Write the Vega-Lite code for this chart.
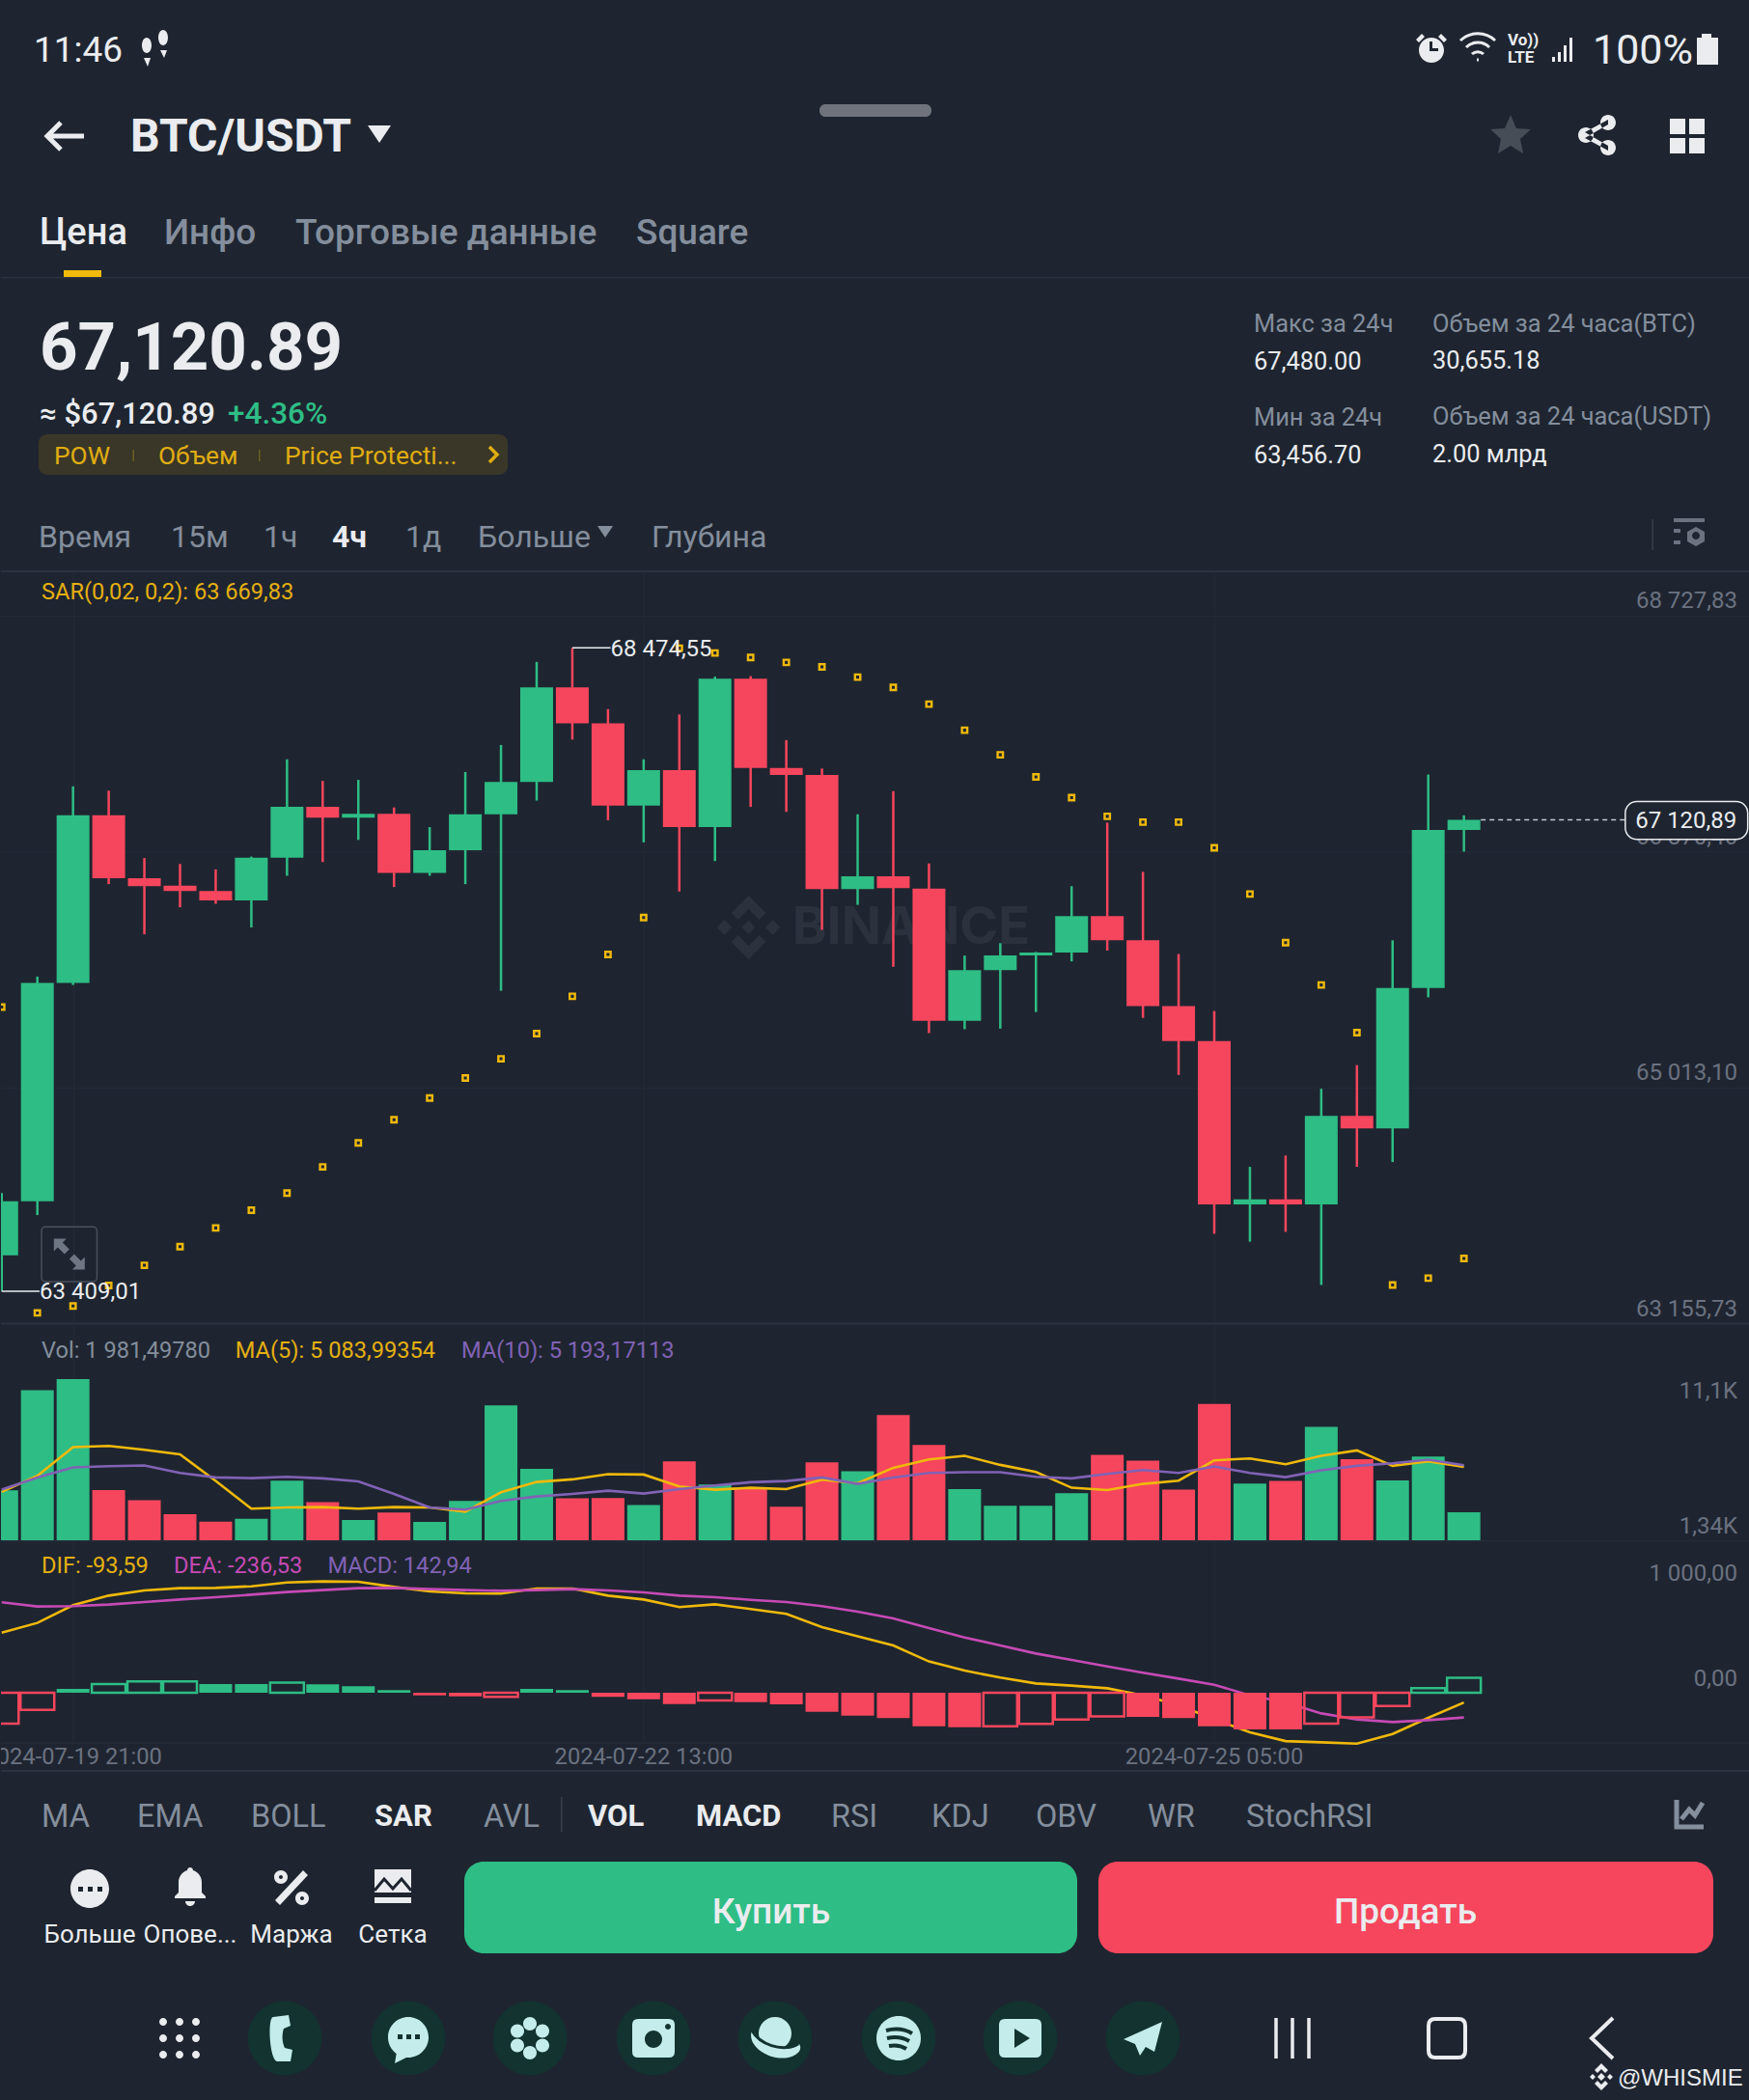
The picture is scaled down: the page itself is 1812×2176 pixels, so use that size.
{
  "$schema": "https://vega.github.io/schema/vega-lite/v6.json",
  "background": "#1e2530",
  "padding": 0,
  "spacing": 0,
  "bounds": "flush",
  "config": {"view": {"stroke": null}, "font": "Roboto"},
  "resolve": {"scale": {"color": "independent"}},
  "datasets": {
    "candles": [
      {"t":"2024-07-19T13:00:00","dir":"up","open":63691,"high":64182,"low":63409.01,"close":64117,"sar":65646,"vol":3476,"ma5":3366,"ma10":3520,"dif":575,"dea":865,"macd":-295,"hollow":true},
      {"t":"2024-07-19T17:00:00","dir":"up","open":64117,"high":65886,"low":64008,"close":65836,"sar":63238,"vol":10318,"ma5":4466,"ma10":4356,"dif":668,"dea":825,"macd":-163,"hollow":true},
      {"t":"2024-07-19T21:00:00","dir":"up","open":65836,"high":67384,"low":65820,"close":67156,"sar":63292,"vol":11066,"ma5":6424,"ma10":5038,"dif":837,"dea":828,"macd":37,"hollow":false},
      {"t":"2024-07-20T01:00:00","dir":"down","open":67156,"high":67350,"low":66614,"close":66660,"sar":63454,"vol":3498,"ma5":6512,"ma10":5126,"dif":929,"dea":843,"macd":83,"hollow":true},
      {"t":"2024-07-20T05:00:00","dir":"down","open":66660,"high":66819,"low":66219,"close":66598,"sar":63613,"vol":2794,"ma5":6248,"ma10":5170,"dif":979,"dea":868,"macd":108,"hollow":true},
      {"t":"2024-07-20T09:00:00","dir":"down","open":66602,"high":66773,"low":66432,"close":66560,"sar":63760,"vol":1848,"ma5":5940,"ma10":4664,"dif":1000,"dea":892,"macd":108,"hollow":true},
      {"t":"2024-07-20T13:00:00","dir":"down","open":66560,"high":66730,"low":66459,"close":66486,"sar":63907,"vol":1342,"ma5":4114,"ma10":4356,"dif":1003,"dea":914,"macd":83,"hollow":false},
      {"t":"2024-07-20T17:00:00","dir":"up","open":66486,"high":66831,"low":66273,"close":66823,"sar":64047,"vol":1540,"ma5":2222,"ma10":4312,"dif":1018,"dea":938,"macd":83,"hollow":false},
      {"t":"2024-07-20T21:00:00","dir":"up","open":66823,"high":67597,"low":66680,"close":67222,"sar":64182,"vol":4136,"ma5":2310,"ma10":4400,"dif":1055,"dea":963,"macd":98,"hollow":true},
      {"t":"2024-07-21T01:00:00","dir":"down","open":67222,"high":67427,"low":66788,"close":67137,"sar":64388,"vol":2662,"ma5":2332,"ma10":4290,"dif":1065,"dea":982,"macd":80,"hollow":false},
      {"t":"2024-07-21T05:00:00","dir":"up","open":67137,"high":67435,"low":66962,"close":67168,"sar":64577,"vol":1452,"ma5":2222,"ma10":4092,"dif":1062,"dea":1000,"macd":62,"hollow":false},
      {"t":"2024-07-21T09:00:00","dir":"down","open":67168,"high":67218,"low":66591,"close":66703,"sar":64759,"vol":1958,"ma5":2332,"ma10":3234,"dif":1012,"dea":1003,"macd":25,"hollow":false},
      {"t":"2024-07-21T13:00:00","dir":"up","open":66703,"high":67063,"low":66680,"close":66881,"sar":64930,"vol":1320,"ma5":2310,"ma10":2310,"dif":969,"dea":991,"macd":-25,"hollow":false},
      {"t":"2024-07-21T17:00:00","dir":"up","open":66881,"high":67497,"low":66614,"close":67164,"sar":65088,"vol":2750,"ma5":2024,"ma10":2156,"dif":951,"dea":982,"macd":-34,"hollow":false},
      {"t":"2024-07-21T21:00:00","dir":"up","open":67164,"high":67710,"low":65774,"close":67419,"sar":65239,"vol":9284,"ma5":3344,"ma10":2750,"dif":948,"dea":975,"macd":-40,"hollow":true},
      {"t":"2024-07-22T01:00:00","dir":"up","open":67419,"high":68364,"low":67272,"close":68163,"sar":65437,"vol":4950,"ma5":4048,"ma10":3058,"dif":997,"dea":982,"macd":37,"hollow":false},
      {"t":"2024-07-22T05:00:00","dir":"down","open":68163,"high":68474.55,"low":67752,"close":67880,"sar":65731,"vol":2926,"ma5":4224,"ma10":3234,"dif":997,"dea":991,"macd":25,"hollow":false},
      {"t":"2024-07-22T09:00:00","dir":"down","open":67880,"high":67992,"low":67117,"close":67233,"sar":66060,"vol":2948,"ma5":4576,"ma10":3454,"dif":929,"dea":979,"macd":-40,"hollow":false},
      {"t":"2024-07-22T13:00:00","dir":"up","open":67233,"high":67597,"low":66943,"close":67512,"sar":66351,"vol":2464,"ma5":4554,"ma10":3256,"dif":892,"dea":960,"macd":-62,"hollow":false},
      {"t":"2024-07-22T17:00:00","dir":"down","open":67512,"high":67950,"low":66556,"close":67063,"sar":68472,"vol":5456,"ma5":3740,"ma10":3564,"dif":819,"dea":929,"macd":-108,"hollow":false},
      {"t":"2024-07-22T21:00:00","dir":"up","open":67063,"high":68248,"low":66796,"close":68232,"sar":68434,"vol":3872,"ma5":3520,"ma10":3806,"dif":846,"dea":914,"macd":-74,"hollow":true},
      {"t":"2024-07-23T01:00:00","dir":"down","open":68232,"high":68252,"low":67222,"close":67528,"sar":68399,"vol":3630,"ma5":3652,"ma10":4026,"dif":800,"dea":889,"macd":-89,"hollow":false},
      {"t":"2024-07-23T05:00:00","dir":"down","open":67528,"high":67748,"low":67183,"close":67473,"sar":68360,"vol":2354,"ma5":3564,"ma10":4114,"dif":754,"dea":868,"macd":-111,"hollow":false},
      {"t":"2024-07-23T09:00:00","dir":"down","open":67473,"high":67524,"low":66254,"close":66575,"sar":68325,"vol":5390,"ma5":4202,"ma10":4356,"dif":628,"dea":828,"macd":-182,"hollow":false},
      {"t":"2024-07-23T13:00:00","dir":"up","open":66575,"high":67164,"low":66451,"close":66676,"sar":68244,"vol":4774,"ma5":3960,"ma10":3916,"dif":539,"dea":775,"macd":-219,"hollow":false},
      {"t":"2024-07-23T17:00:00","dir":"down","open":66676,"high":67346,"low":65963,"close":66583,"sar":68163,"vol":8624,"ma5":5016,"ma10":4356,"dif":452,"dea":711,"macd":-243,"hollow":false},
      {"t":"2024-07-23T21:00:00","dir":"down","open":66579,"high":66777,"low":65441,"close":65537,"sar":68031,"vol":6578,"ma5":5588,"ma10":4664,"dif":299,"dea":619,"macd":-320,"hollow":false},
      {"t":"2024-07-24T01:00:00","dir":"up","open":65537,"high":66052,"low":65472,"close":65936,"sar":67826,"vol":3564,"ma5":5830,"ma10":4708,"dif":212,"dea":529,"macd":-329,"hollow":false},
      {"t":"2024-07-24T05:00:00","dir":"up","open":65936,"high":66149,"low":65476,"close":66052,"sar":67632,"vol":2420,"ma5":5214,"ma10":4708,"dif":145,"dea":452,"macd":-320,"hollow":true},
      {"t":"2024-07-24T09:00:00","dir":"up","open":66052,"high":66080,"low":65607,"close":66076,"sar":67458,"vol":2420,"ma5":4730,"ma10":4400,"dif":89,"dea":375,"macd":-298,"hollow":true},
      {"t":"2024-07-24T13:00:00","dir":"up","open":66076,"high":66598,"low":66006,"close":66362,"sar":67295,"vol":3278,"ma5":3652,"ma10":4290,"dif":68,"dea":314,"macd":-255,"hollow":true},
      {"t":"2024-07-24T17:00:00","dir":"down","open":66362,"high":67098,"low":66091,"close":66172,"sar":67148,"vol":5896,"ma5":3498,"ma10":4598,"dif":43,"dea":252,"macd":-225,"hollow":true},
      {"t":"2024-07-24T21:00:00","dir":"down","open":66172,"high":66711,"low":65561,"close":65654,"sar":67102,"vol":5500,"ma5":3916,"ma10":4862,"dif":-25,"dea":191,"macd":-231,"hollow":false},
      {"t":"2024-07-25T01:00:00","dir":"down","open":65654,"high":66064,"low":65112,"close":65379,"sar":67102,"vol":3520,"ma5":4136,"ma10":4664,"dif":-117,"dea":135,"macd":-243,"hollow":false},
      {"t":"2024-07-25T05:00:00","dir":"down","open":65379,"high":65615,"low":63861,"close":64093,"sar":66900,"vol":9372,"ma5":5522,"ma10":5104,"dif":-255,"dea":77,"macd":-320,"hollow":false},
      {"t":"2024-07-25T09:00:00","dir":"up","open":64093,"high":64388,"low":63799,"close":64132,"sar":66536,"vol":3938,"ma5":5654,"ma10":4664,"dif":-378,"dea":-25,"macd":-351,"hollow":false},
      {"t":"2024-07-25T13:00:00","dir":"down","open":64132,"high":64477,"low":63876,"close":64093,"sar":66153,"vol":4114,"ma5":5258,"ma10":4378,"dif":-462,"dea":-92,"macd":-351,"hollow":false},
      {"t":"2024-07-25T17:00:00","dir":"up","open":64093,"high":65003,"low":63458,"close":64790,"sar":65820,"vol":7810,"ma5":5830,"ma10":4840,"dif":-474,"dea":-197,"macd":-295,"hollow":true},
      {"t":"2024-07-25T21:00:00","dir":"down","open":64790,"high":65189,"low":64388,"close":64690,"sar":65445,"vol":5610,"ma5":6204,"ma10":5148,"dif":-486,"dea":-255,"macd":-234,"hollow":true},
      {"t":"2024-07-26T01:00:00","dir":"up","open":64690,"high":66172,"low":64426,"close":65797,"sar":63458,"vol":4158,"ma5":5148,"ma10":5324,"dif":-394,"dea":-280,"macd":-126,"hollow":true},
      {"t":"2024-07-26T05:00:00","dir":"up","open":65797,"high":67477,"low":65723,"close":67040,"sar":63512,"vol":5786,"ma5":5456,"ma10":5566,"dif":-240,"dea":-262,"macd":43,"hollow":true},
      {"t":"2024-07-26T09:00:00","dir":"up","open":67040,"high":67156,"low":66870,"close":67120.89,"sar":63667,"vol":1981.5,"ma5":5084,"ma10":5193,"dif":-93.59,"dea":-236.53,"macd":142.94,"hollow":true}
    ]
  },
  "vconcat": [
    {
      "width": 1812,
      "height": 592,
      "encoding": {
        "x": {"field": "col", "type": "quantitative", "scale": {"domain": [0, 1812]}, "axis": null},
        "y": {"field": "row", "type": "quantitative", "scale": {"domain": [592, 0]}, "axis": null}
      },
      "layer": [
        {"data": {"values": [{"col": 0, "col2": 1812, "row": 287, "row2": 288.5}, {"col": 0, "col2": 1812, "row": 591, "row2": 593}]}, "mark": {"type": "rect", "color": "#2b3240"}, "encoding": {"x2": {"field": "col2"}, "y2": {"field": "row2"}}},
        {"data": {"values": [{"col": 65, "col2": 104, "row": 280, "row2": 287}]}, "mark": {"type": "rect", "color": "#f0b90b"}, "encoding": {"x2": {"field": "col2"}, "y2": {"field": "row2"}}},
        {"data": {"values": [{"col": 848, "col2": 964, "row": 108, "row2": 121}]}, "mark": {"type": "rect", "color": "#6f737b", "cornerRadius": 6}, "encoding": {"x2": {"field": "col2"}, "y2": {"field": "row2"}}},
        {"data": {"values": [{"col": 39, "col2": 525, "row": 450, "row2": 492}]}, "mark": {"type": "rect", "color": "#3a3728", "cornerRadius": 9}, "encoding": {"x2": {"field": "col2"}, "y2": {"field": "row2"}}},
        {"data": {"values": [{"col": 136.5, "col2": 138, "row": 466, "row2": 478}, {"col": 267, "col2": 268.5, "row": 466, "row2": 478}]}, "mark": {"type": "rect", "color": "#6b5f22"}, "encoding": {"x2": {"field": "col2"}, "y2": {"field": "row2"}}},
        {"data": {"values": [{"col": 1710.5, "col2": 1712, "row": 538, "row2": 570}]}, "mark": {"type": "rect", "color": "#39404c"}, "encoding": {"x2": {"field": "col2"}, "y2": {"field": "row2"}}},

        {"data": {"values": [{"label": "11:46", "col": 34, "row": 51}]}, "mark": {"type": "text", "align": "left", "dy": 2, "fontSize": 37, "color": "#eaecef"}, "encoding": {"text": {"field": "label"}}},
        {"data": {"values": [{"label": "100%", "col": 1649, "row": 51}]}, "mark": {"type": "text", "align": "left", "dy": 2, "fontSize": 43, "color": "#eaecef"}, "encoding": {"text": {"field": "label"}}},
        {"data": {"values": [{"label": "Vo))", "col": 1561, "row": 42}, {"label": "LTE", "col": 1561, "row": 60}]}, "mark": {"type": "text", "align": "left", "fontSize": 17, "fontWeight": "bold", "color": "#eaecef"}, "encoding": {"text": {"field": "label"}}},
        {"data": {"values": [{"label": "BTC/USDT", "col": 134, "row": 141}]}, "mark": {"type": "text", "align": "left", "dy": 2, "fontSize": 48, "fontWeight": "bold", "color": "#eaecef"}, "encoding": {"text": {"field": "label"}}},
        {"data": {"values": [{"label": "Цена", "col": 40, "row": 240}]}, "mark": {"type": "text", "align": "left", "dy": 2, "fontSize": 38, "fontWeight": 500, "color": "#eaecef"}, "encoding": {"text": {"field": "label"}}},
        {"data": {"values": [{"label": "Инфо", "col": 169, "row": 240}, {"label": "Торговые данные", "col": 305, "row": 240}, {"label": "Square", "col": 658, "row": 240}]}, "mark": {"type": "text", "align": "left", "dy": 2, "fontSize": 37, "fontWeight": 500, "color": "#848e9c"}, "encoding": {"text": {"field": "label"}}},
        {"data": {"values": [{"label": "67,120.89", "col": 40, "row": 358}]}, "mark": {"type": "text", "align": "left", "dy": 4, "fontSize": 69, "fontWeight": "bold", "color": "#eaecef"}, "encoding": {"text": {"field": "label"}}},
        {"data": {"values": [{"label": "≈ $67,120.89", "col": 40, "row": 430}]}, "mark": {"type": "text", "align": "left", "fontSize": 31, "fontWeight": 500, "color": "#eaecef"}, "encoding": {"text": {"field": "label"}}},
        {"data": {"values": [{"label": "+4.36%", "col": 235, "row": 430}]}, "mark": {"type": "text", "align": "left", "fontSize": 31.5, "fontWeight": 500, "color": "#2ebd85"}, "encoding": {"text": {"field": "label"}}},
        {"data": {"values": [{"label": "POW", "col": 55, "row": 472}, {"label": "Объем", "col": 163, "row": 472}, {"label": "Price Protecti...", "col": 294, "row": 472}]}, "mark": {"type": "text", "align": "left", "dy": 1, "fontSize": 26.3, "color": "#e0ad12"}, "encoding": {"text": {"field": "label"}}},
        {"data": {"values": [{"label": "Макс за 24ч", "col": 1298, "row": 334}, {"label": "Объем за 24 часа(BTC)", "col": 1483, "row": 334}, {"label": "Мин за 24ч", "col": 1298, "row": 431}, {"label": "Объем за 24 часа(USDT)", "col": 1483, "row": 430}]}, "mark": {"type": "text", "align": "left", "dy": 1.5, "fontSize": 25.4, "color": "#848e9c"}, "encoding": {"text": {"field": "label"}}},
        {"data": {"values": [{"label": "67,480.00", "col": 1298, "row": 373}, {"label": "30,655.18", "col": 1483, "row": 372}, {"label": "63,456.70", "col": 1298, "row": 470}, {"label": "2.00 млрд", "col": 1483, "row": 469}]}, "mark": {"type": "text", "align": "left", "dy": 1.5, "fontSize": 25.4, "color": "#eaecef"}, "encoding": {"text": {"field": "label"}}},
        {"data": {"values": [{"label": "Время", "col": 39, "row": 555}, {"label": "15м", "col": 176, "row": 555}, {"label": "1ч", "col": 272, "row": 555}, {"label": "1д", "col": 419, "row": 555}, {"label": "Больше", "col": 494, "row": 555}, {"label": "Глубина", "col": 674, "row": 555}]}, "mark": {"type": "text", "align": "left", "dy": 1.5, "fontSize": 32, "color": "#848e9c"}, "encoding": {"text": {"field": "label"}}},
        {"data": {"values": [{"label": "4ч", "col": 343, "row": 555}]}, "mark": {"type": "text", "align": "left", "dy": 1.5, "fontSize": 32, "fontWeight": "bold", "color": "#eaecef"}, "encoding": {"text": {"field": "label"}}},

        {"data": {"values": [{"col": 66, "row": 141}]}, "mark": {"type": "point", "shape": "M20,0H-18M-4,-14L-18,0L-4,14", "size": 4, "filled": false, "stroke": "#eaecef", "strokeWidth": 5, "opacity": 1}},
        {"data": {"values": [{"col": 392, "row": 139}]}, "mark": {"type": "point", "shape": "M-12,-9H12L0,9Z", "size": 4, "filled": true, "fill": "#eaecef", "strokeWidth": 0, "opacity": 1}},
        {"data": {"values": [{"col": 160, "row": 51}]}, "mark": {"type": "point", "shape": "M-14,-4a5,8 0 1,0 10,0a5,8 0 1,0 -10,0zM-12,9h7l-3,9zM3,-12a5,8 0 1,0 10,0a5,8 0 1,0 -10,0zM5,1h7l-3,8z", "size": 4, "filled": true, "fill": "#eaecef", "strokeWidth": 0, "opacity": 1}},
        {"data": {"values": [{"col": 1564, "row": 140}]}, "mark": {"type": "point", "shape": "M0,-21L6,-7L21,-6L10,4L13,19L0,11L-13,19L-10,4L-21,-6L-6,-7Z", "size": 4, "filled": true, "fill": "#474d57", "strokeWidth": 0, "opacity": 1}},
        {"data": {"values": [{"col": 1653, "row": 140}]}, "mark": {"type": "point", "shape": "M-19,0a8,8 0 1,0 16,0a8,8 0 1,0 -16,0zM4,-13a8,8 0 1,0 16,0a8,8 0 1,0 -16,0zM4,13a8,8 0 1,0 16,0a8,8 0 1,0 -16,0zM-12,-3L12,-16L12,-11L-12,3ZM-12,-3L12,11L12,16L-12,3Z", "size": 4, "filled": true, "fill": "#eaecef", "strokeWidth": 0, "opacity": 1}},
        {"data": {"values": [{"col": 1747, "row": 141}]}, "mark": {"type": "point", "shape": "M-18,-18h16v16h-16zM2,-18h16v16h-16zM-18,2h16v16h-16zM2,2h16v16h-16z", "size": 4, "filled": true, "fill": "#eaecef", "strokeWidth": 0, "opacity": 1}},
        {"data": {"values": [{"col": 1482, "row": 51}]}, "mark": {"type": "point", "shape": "M-13,1a13,13 0 1,0 26,0a13,13 0 1,0 -26,0zM-2,-8H1V-1H7V2H-2ZM-16,-10l6,-6l3,3l-6,6zM16,-10l-6,-6l-3,3l6,6z", "size": 4, "filled": true, "fill": "#eaecef", "strokeWidth": 0, "opacity": 1}},
        {"data": {"values": [{"col": 1530, "row": 49}]}, "mark": {"type": "point", "shape": "M-18,-7a26,26 0 0,1 36,0M-12,0a17,17 0 0,1 24,0M-6,7a9,9 0 0,1 12,0M-1,13h2", "size": 4, "filled": false, "stroke": "#eaecef", "strokeWidth": 3, "opacity": 1}},
        {"data": {"values": [{"col": 1620, "row": 51}]}, "mark": {"type": "point", "shape": "M-13,8h3v5h-3zM-7,3h3v10h-3zM-1,-4h3v17h-3zM5,-12h3v25h-3z", "size": 4, "filled": true, "fill": "#eaecef", "strokeWidth": 0, "opacity": 1}},
        {"data": {"values": [{"col": 1768, "row": 51}]}, "mark": {"type": "point", "shape": "M-11,-12h5v-4h10v4h7v28h-22z", "size": 4, "filled": true, "fill": "#eaecef", "strokeWidth": 0, "opacity": 1}},
        {"data": {"values": [{"col": 626, "row": 551}]}, "mark": {"type": "point", "shape": "M-8,-6H8L0,6Z", "size": 4, "filled": true, "fill": "#848e9c", "strokeWidth": 0, "opacity": 1}},
        {"data": {"values": [{"col": 510, "row": 471}]}, "mark": {"type": "point", "shape": "M-4,-8L4,0L-4,8", "size": 4, "filled": false, "stroke": "#e0ad12", "strokeWidth": 3.5, "opacity": 1}},
        {"data": {"values": [{"col": 1749, "row": 553}]}, "mark": {"type": "point", "shape": "M-16,-16h32v4h-32zM-16,-5h7v4h-7zM-16,7h7v4h-7zM7,-7L16,-2V8L7,13L-2,8V-2ZM7,-2a4,4 0 1,0 0,8a4,4 0 1,0 0,-8z", "size": 4, "filled": true, "fill": "#6b7280", "strokeWidth": 0, "opacity": 1}}
      ]
    },
    {
      "width": 1812,
      "height": 780,
      "encoding": {
        "x": {"field": "t", "type": "temporal", "scale": {"domain": ["2024-07-19T12:55:00", "2024-07-27T17:05:00"], "padding": 0},
          "axis": {"values": ["2024-07-19T21:00:00", "2024-07-22T13:00:00", "2024-07-25T05:00:00"], "labels": false, "ticks": false, "domain": false, "title": null, "grid": true, "gridColor": "#232a36", "gridWidth": 1.5}},
        "y": {"type": "quantitative", "scale": {"domain": [63150, 69077]},
          "axis": {"orient": "right", "values": [63155.73, 65013.10, 66870.46, 68727.83], "domain": false, "ticks": false, "title": null, "grid": true, "gridColor": "#232a36", "gridWidth": 1.5, "labelPadding": -13.5, "labelAlign": "right", "labelBaseline": "bottom", "labelOffset": -3, "labelColor": "#6b7280", "labelFont": "Roboto", "labelFontSize": 24, "labelOverlap": false, "labelFlush": false, "labelBound": false, "labelExpr": "replace(replace(format(datum.value, ',.2f'), ',', ' '), '.', ',')"}}
      },
      "layer": [
        {"data": {"values": [{"t": "2024-07-23T00:46:00", "price": 66273}]}, "mark": {"type": "point", "shape": "M0,-7L7,0L0,7L-7,0ZM0,-33L18,-15L11,-8L0,-19L-11,-8L-18,-15ZM0,33L18,15L11,8L0,19L-11,8L-18,15ZM-33,0L-25,-8L-17,0L-25,8ZM33,0L25,-8L17,0L25,8Z", "size": 4, "filled": true, "fill": "#2b313d", "strokeWidth": 0, "opacity": 1}, "encoding": {"y": {"field": "price"}}},
        {"data": {"values": [{"t": "2024-07-23T05:40:00", "price": 66265, "label": "BINANCE"}]}, "mark": {"type": "text", "align": "left", "font": "Inter", "fontWeight": "bold", "fontSize": 54, "color": "#2b313d"}, "encoding": {"y": {"field": "price"}, "text": {"field": "label"}}},
        {"data": {"name": "candles"}, "mark": {"type": "rule", "strokeWidth": 2.5, "clip": true}, "encoding": {"y": {"field": "low"}, "y2": {"field": "high"}, "color": {"field": "dir", "type": "nominal", "scale": {"domain": ["up", "down"], "range": ["#2ebd85", "#f6465d"]}, "legend": null}}},
        {"data": {"name": "candles"}, "mark": {"type": "bar", "size": 34, "clip": true}, "encoding": {"y": {"field": "open"}, "y2": {"field": "close"}, "color": {"field": "dir", "type": "nominal", "scale": {"domain": ["up", "down"], "range": ["#2ebd85", "#f6465d"]}, "legend": null}}},
        {"data": {"values": [{"t": "2024-07-19T17:28:00", "t2": "2024-07-19T23:41:00", "price": 63485, "price2": 63915}]}, "mark": {"type": "rect", "fill": "transparent", "stroke": "#4a505c", "strokeWidth": 1.5, "cornerRadius": 4}, "encoding": {"x2": {"field": "t2"}, "y": {"field": "price"}, "y2": {"field": "price2"}}},
        {"data": {"values": [{"t": "2024-07-19T20:35:00", "price": 63700}]}, "mark": {"type": "point", "shape": "M-16,-16h13l-4,4l7,7l-5,5l-7,-7l-4,4zM16,16h-13l4,-4l-7,-7l5,-5l7,7l4,-4z", "size": 4, "filled": true, "fill": "#6f7683", "strokeWidth": 0, "opacity": 1}, "encoding": {"y": {"field": "price"}}},
        {"data": {"name": "candles"}, "mark": {"type": "point", "shape": "square", "size": 30, "filled": true, "fill": "#1e2530", "stroke": "#f0b90b", "strokeWidth": 2.4, "opacity": 1, "clip": true}, "encoding": {"y": {"field": "sar"}}},
        {"data": {"values": [{"t": "2024-07-22T05:00:00", "t2": "2024-07-22T09:17:00", "price": 68474.55, "label": "68 474,55"}, {"t": "2024-07-19T13:00:00", "t2": "2024-07-19T17:15:00", "price": 63409.01, "label": "63 409,01"}]}, "mark": {"type": "rule", "color": "#eaecef", "strokeWidth": 1.5}, "encoding": {"x2": {"field": "t2"}, "y": {"field": "price"}}},
        {"data": {"values": [{"t2": "2024-07-22T09:17:00", "price": 68474.55, "label": "68 474,55"}, {"t2": "2024-07-19T17:15:00", "price": 63409.01, "label": "63 409,01"}]}, "mark": {"type": "text", "align": "left", "dy": 1.5, "fontSize": 24, "color": "#eaecef"}, "encoding": {"x": {"field": "t2"}, "y": {"field": "price"}, "text": {"field": "label"}}},
        {"data": {"values": [{"t": "2024-07-26T10:54:00", "t2": "2024-07-27T03:06:00", "price": 67120.89}]}, "mark": {"type": "rule", "color": "#c4c8ce", "strokeWidth": 1.5, "strokeDash": [5, 4]}, "encoding": {"x2": {"field": "t2"}, "y": {"field": "price"}}},
        {"data": {"values": [{"t": "2024-07-27T03:06:00", "t2": "2024-07-27T16:50:00", "price": 66967, "price2": 67265}]}, "mark": {"type": "rect", "fill": "#1e2530", "stroke": "#eaecef", "strokeWidth": 1.5, "cornerRadius": 12}, "encoding": {"x2": {"field": "t2"}, "y": {"field": "price"}, "y2": {"field": "price2"}}},
        {"data": {"values": [{"t": "2024-07-27T15:36:00", "price": 67120.89, "label": "67 120,89"}]}, "mark": {"type": "text", "align": "right", "dy": 2, "fontSize": 24, "color": "#eaecef"}, "encoding": {"y": {"field": "price"}, "text": {"field": "label"}}},
        {"data": {"values": [{"t": "2024-07-19T17:28:00", "price": 68925, "label": "SAR(0,02, 0,2): 63 669,83"}]}, "mark": {"type": "text", "align": "left", "dy": 1.5, "fontSize": 23.6, "color": "#e5b012"}, "encoding": {"y": {"field": "price"}, "text": {"field": "label"}}},
        {"data": {"values": [{"t": "2024-07-19T12:55:00", "t2": "2024-07-27T17:05:00", "price": 63154}]}, "mark": {"type": "rule", "color": "#2b3240", "strokeWidth": 2}, "encoding": {"x2": {"field": "t2"}, "y": {"field": "price"}}}
      ]
    },
    {
      "width": 1812,
      "height": 225,
      "encoding": {
        "x": {"field": "t", "type": "temporal", "scale": {"domain": ["2024-07-19T12:55:00", "2024-07-27T17:05:00"], "padding": 0},
          "axis": {"values": ["2024-07-19T21:00:00", "2024-07-22T13:00:00", "2024-07-25T05:00:00"], "labels": false, "ticks": false, "domain": false, "title": null, "grid": true, "gridColor": "#232a36", "gridWidth": 1.5}},
        "y": {"type": "quantitative", "scale": {"domain": [0, 14830]},
          "axis": {"orient": "right", "values": [1340, 11100], "domain": false, "ticks": false, "title": null, "grid": false, "labelPadding": -13.5, "labelAlign": "right", "labelBaseline": "middle", "labelOffset": {"condition": {"test": "datum.value > 5000", "value": 13}, "value": 5}, "labelColor": "#6b7280", "labelFont": "Roboto", "labelFontSize": 24, "labelOverlap": false, "labelFlush": false, "labelBound": false, "labelExpr": "datum.value > 5000 ? '11,1K' : '1,34K'"}}
      },
      "layer": [
        {"data": {"name": "candles"}, "mark": {"type": "bar", "size": 34, "clip": true}, "encoding": {"y": {"field": "vol"}, "color": {"field": "dir", "type": "nominal", "scale": {"domain": ["up", "down"], "range": ["#2ebd85", "#f6465d"]}, "legend": null}}},
        {"data": {"name": "candles"}, "mark": {"type": "line", "color": "#f0b90b", "strokeWidth": 2.6, "clip": true}, "encoding": {"y": {"field": "ma5"}}},
        {"data": {"name": "candles"}, "mark": {"type": "line", "color": "#8162b5", "strokeWidth": 2.6, "clip": true}, "encoding": {"y": {"field": "ma10"}}},
        {"data": {"values": [{"t": "2024-07-19T17:28:00", "vol": 13081, "label": "Vol: 1 981,49780"}]}, "mark": {"type": "text", "align": "left", "dy": 1, "fontSize": 23.6, "color": "#848e9c"}, "encoding": {"y": {"field": "vol"}, "text": {"field": "label"}}},
        {"data": {"values": [{"t": "2024-07-20T15:12:00", "vol": 13081, "label": "MA(5): 5 083,99354"}]}, "mark": {"type": "text", "align": "left", "dy": 1, "fontSize": 23.6, "color": "#e5b012"}, "encoding": {"y": {"field": "vol"}, "text": {"field": "label"}}},
        {"data": {"values": [{"t": "2024-07-21T16:34:00", "vol": 13081, "label": "MA(10): 5 193,17113"}]}, "mark": {"type": "text", "align": "left", "dy": 1, "fontSize": 23.6, "color": "#8162b5"}, "encoding": {"y": {"field": "vol"}, "text": {"field": "label"}}},
        {"data": {"values": [{"t": "2024-07-19T12:55:00", "t2": "2024-07-27T17:05:00", "vol": 15}]}, "mark": {"type": "rule", "color": "#252c38", "strokeWidth": 1.5}, "encoding": {"x2": {"field": "t2"}, "y": {"field": "vol"}}}
      ]
    },
    {
      "width": 1812,
      "height": 237,
      "encoding": {
        "x": {"field": "t", "type": "temporal", "scale": {"domain": ["2024-07-19T12:55:00", "2024-07-27T17:05:00"], "padding": 0}, "axis": null},
        "y": {"type": "quantitative", "scale": {"domain": [-738, 1449]},
          "axis": {"orient": "right", "values": [0, 1000], "domain": false, "ticks": false, "title": null, "grid": false, "labelPadding": -13.5, "labelAlign": "right", "labelBaseline": "bottom", "labelOffset": -3, "labelColor": "#6b7280", "labelFont": "Roboto", "labelFontSize": 24, "labelOverlap": false, "labelFlush": false, "labelBound": false, "labelExpr": "datum.value > 500 ? '1 000,00' : '0,00'"}}
      },
      "layer": [
        {"data": {"values": [{"t": "2024-07-19T21:00:00", "macd": 1449, "macd2": -480}, {"t": "2024-07-22T13:00:00", "macd": 1449, "macd2": -480}, {"t": "2024-07-25T05:00:00", "macd": 1449, "macd2": -480}]}, "mark": {"type": "rule", "color": "#232a36", "strokeWidth": 1.5}, "encoding": {"y": {"field": "macd"}, "y2": {"field": "macd2"}}},
        {"data": {"values": [{"t": "2024-07-19T12:55:00", "t2": "2024-07-27T17:05:00", "macd": -480}]}, "mark": {"type": "rule", "color": "#252c38", "strokeWidth": 1.5}, "encoding": {"x2": {"field": "t2"}, "y": {"field": "macd"}}},
        {"data": {"name": "candles"}, "mark": {"type": "line", "color": "#f0b90b", "strokeWidth": 2.6, "clip": true}, "encoding": {"y": {"field": "dif"}}},
        {"data": {"name": "candles"}, "mark": {"type": "line", "color": "#c64ab5", "strokeWidth": 2.6, "clip": true}, "encoding": {"y": {"field": "dea"}}},
        {"data": {"name": "candles"}, "transform": [{"filter": "!datum.hollow"}], "mark": {"type": "bar", "size": 34, "clip": true}, "encoding": {"y": {"field": "macd"}, "color": {"condition": {"test": "datum.macd >= 0", "value": "#2ebd85"}, "value": "#f6465d"}}},
        {"data": {"name": "candles"}, "transform": [{"filter": "datum.hollow"}], "mark": {"type": "bar", "size": 35, "filled": false, "strokeWidth": 2.5, "clip": true}, "encoding": {"y": {"field": "macd"}, "stroke": {"condition": {"test": "datum.macd >= 0", "value": "#2ebd85"}, "value": "#f6465d"}}},
        {"data": {"values": [{"t": "2024-07-19T17:28:00", "macd": 1218, "label": "DIF: -93,59"}]}, "mark": {"type": "text", "align": "left", "dy": 1, "fontSize": 23.6, "color": "#e5b012"}, "encoding": {"y": {"field": "macd"}, "text": {"field": "label"}}},
        {"data": {"values": [{"t": "2024-07-20T08:18:00", "macd": 1218, "label": "DEA: -236,53"}]}, "mark": {"type": "text", "align": "left", "dy": 1, "fontSize": 23.6, "color": "#c64ab5"}, "encoding": {"y": {"field": "macd"}, "text": {"field": "label"}}},
        {"data": {"values": [{"t": "2024-07-21T01:33:00", "macd": 1218, "label": "MACD: 142,94"}]}, "mark": {"type": "text", "align": "left", "dy": 1, "fontSize": 23.6, "color": "#8162b5"}, "encoding": {"y": {"field": "macd"}, "text": {"field": "label"}}},
        {"data": {"values": [{"t": "2024-07-19T21:00:00", "macd": -609, "label": "2024-07-19 21:00"}, {"t": "2024-07-22T13:00:00", "macd": -609, "label": "2024-07-22 13:00"}, {"t": "2024-07-25T05:00:00", "macd": -609, "label": "2024-07-25 05:00"}]}, "mark": {"type": "text", "align": "center", "dy": 1, "fontSize": 23.7, "color": "#6b7280", "clip": true}, "encoding": {"y": {"field": "macd"}, "text": {"field": "label"}}}
      ]
    },
    {
      "width": 1812,
      "height": 342,
      "encoding": {
        "x": {"field": "col", "type": "quantitative", "scale": {"domain": [0, 1812]}, "axis": null},
        "y": {"field": "row", "type": "quantitative", "scale": {"domain": [2176, 1834]}, "axis": null}
      },
      "layer": [
        {"data": {"values": [{"col": 0, "col2": 1812, "row": 1834, "row2": 1836}]}, "mark": {"type": "rect", "color": "#2b3240"}, "encoding": {"x2": {"field": "col2"}, "y2": {"field": "row2"}}},
        {"data": {"values": [{"col": 480, "col2": 1115, "row": 1929, "row2": 2024}]}, "mark": {"type": "rect", "color": "#2ebd85", "cornerRadius": 20}, "encoding": {"x2": {"field": "col2"}, "y2": {"field": "row2"}}},
        {"data": {"values": [{"col": 1137, "col2": 1774, "row": 1929, "row2": 2024}]}, "mark": {"type": "rect", "color": "#f6465d", "cornerRadius": 20}, "encoding": {"x2": {"field": "col2"}, "y2": {"field": "row2"}}},
        {"data": {"values": [{"col": 580, "col2": 581.5, "row": 1862, "row2": 1898}]}, "mark": {"type": "rect", "color": "#39404c"}, "encoding": {"x2": {"field": "col2"}, "y2": {"field": "row2"}}},
        {"data": {"values": [{"label": "MA", "col": 42, "row": 1881}, {"label": "EMA", "col": 141, "row": 1881}, {"label": "BOLL", "col": 259, "row": 1881}, {"label": "AVL", "col": 500, "row": 1881}, {"label": "RSI", "col": 860, "row": 1881}, {"label": "KDJ", "col": 964, "row": 1881}, {"label": "OBV", "col": 1072, "row": 1881}, {"label": "WR", "col": 1188, "row": 1881}, {"label": "StochRSI", "col": 1290, "row": 1881}]}, "mark": {"type": "text", "align": "left", "dy": 1.5, "fontSize": 32.5, "color": "#848e9c"}, "encoding": {"text": {"field": "label"}}},
        {"data": {"values": [{"label": "SAR", "col": 387, "row": 1881}, {"label": "VOL", "col": 608, "row": 1881}, {"label": "MACD", "col": 720, "row": 1881}]}, "mark": {"type": "text", "align": "left", "dy": 1.5, "fontSize": 31, "fontWeight": "bold", "color": "#eaecef"}, "encoding": {"text": {"field": "label"}}},
        {"data": {"values": [{"label": "Больше", "col": 92, "row": 2003}, {"label": "Опове...", "col": 196, "row": 2003}, {"label": "Маржа", "col": 301, "row": 2003}, {"label": "Сетка", "col": 406, "row": 2003}]}, "mark": {"type": "text", "align": "center", "dy": 1.5, "fontSize": 26, "color": "#eaecef"}, "encoding": {"text": {"field": "label"}}},
        {"data": {"values": [{"label": "Купить", "col": 798, "row": 1980}, {"label": "Продать", "col": 1455, "row": 1980}]}, "mark": {"type": "text", "align": "center", "dy": 2, "fontSize": 37, "fontWeight": 500, "color": "#eaecef"}, "encoding": {"text": {"field": "label"}}},
        {"data": {"values": [{"label": "@WHISMIE", "col": 1675, "row": 2152}]}, "mark": {"type": "text", "align": "left", "dy": 1.5, "font": "Liberation Sans", "fontSize": 24, "color": "#eaecef"}, "encoding": {"text": {"field": "label"}}},

        {"data": {"values": [{"col": 1749, "row": 1880}]}, "mark": {"type": "point", "shape": "M-13,-15V13H15M-8,5L0,-5L6,1L14,-12", "size": 4, "filled": false, "stroke": "#848e9c", "strokeWidth": 5, "opacity": 1}},
        {"data": {"values": [{"col": 92, "row": 1957}]}, "mark": {"type": "point", "shape": "M-20,0a20,20 0 1,0 40,0a20,20 0 1,0 -40,0zM-12,-2h5v5h-5zM-2,-2h5v5h-5zM8,-2h5v5h-5z", "size": 4, "filled": true, "fill": "#eaecef", "strokeWidth": 0, "opacity": 1}},
        {"data": {"values": [{"col": 196, "row": 1955}]}, "mark": {"type": "point", "shape": "M-3,-17a3,3 0 0,1 6,0a13,13 0 0,1 9,13v10l4,4v2h-32v-2l4,-4v-10a13,13 0 0,1 9,-13zM-5,15h10a5,5 0 0,1 -10,0z", "size": 4, "filled": true, "fill": "#eaecef", "strokeWidth": 0, "opacity": 1}},
        {"data": {"values": [{"col": 301, "row": 1956}]}, "mark": {"type": "point", "shape": "M12,-18L17,-13L-12,18L-17,13ZM-18,-11a7,7 0 1,0 14,0a7,7 0 1,0 -14,0zM-13,-11a2,2 0 1,1 4,0a2,2 0 1,1 -4,0zM4,11a7,7 0 1,0 14,0a7,7 0 1,0 -14,0zM9,11a2,2 0 1,1 4,0a2,2 0 1,1 -4,0z", "size": 4, "filled": true, "fill": "#eaecef", "strokeWidth": 0, "opacity": 1}},
        {"data": {"values": [{"col": 406, "row": 1955}]}, "mark": {"type": "point", "shape": "M-19,-18h38v24h-38zM-19,11h38v6h-38z", "size": 4, "filled": true, "fill": "#eaecef", "strokeWidth": 0, "opacity": 1}},
        {"data": {"values": [{"col": 406, "row": 1955}]}, "mark": {"type": "point", "shape": "M-19,4L-9,-8L0,2L9,-8L19,4", "size": 4, "filled": false, "stroke": "#1e2530", "strokeWidth": 3, "opacity": 1}},

        {"data": {"values": [{"col": 294, "row": 2112}, {"col": 422, "row": 2112}, {"col": 548, "row": 2112}, {"col": 676, "row": 2112}, {"col": 802, "row": 2112}, {"col": 930, "row": 2112}, {"col": 1056, "row": 2112}, {"col": 1183, "row": 2112}]}, "mark": {"type": "point", "shape": "circle", "size": 5900, "filled": true, "fill": "#12332f", "strokeWidth": 0, "opacity": 1}},
        {"data": {"values": [{"col": 185, "row": 2112}]}, "mark": {"type": "point", "shape": "M-21,-17a4,4 0 1,0 8,0a4,4 0 1,0 -8,0zM-4,-17a4,4 0 1,0 8,0a4,4 0 1,0 -8,0zM13,-17a4,4 0 1,0 8,0a4,4 0 1,0 -8,0zM-21,0a4,4 0 1,0 8,0a4,4 0 1,0 -8,0zM-4,0a4,4 0 1,0 8,0a4,4 0 1,0 -8,0zM13,0a4,4 0 1,0 8,0a4,4 0 1,0 -8,0zM-21,17a4,4 0 1,0 8,0a4,4 0 1,0 -8,0zM-4,17a4,4 0 1,0 8,0a4,4 0 1,0 -8,0zM13,17a4,4 0 1,0 8,0a4,4 0 1,0 -8,0z", "size": 4, "filled": true, "fill": "#eaecef", "strokeWidth": 0, "opacity": 1}},
        {"data": {"values": [{"col": 294, "row": 2112}]}, "mark": {"type": "point", "shape": "M-12,-22C-18,-22 -16,22 -8,24L6,24L8,12L0,10C-3,4 -3,-5 -1,-10L6,-13L4,-24Z", "size": 4, "filled": true, "fill": "#c3ecea", "strokeWidth": 0, "opacity": 1}},
        {"data": {"values": [{"col": 422, "row": 2112}]}, "mark": {"type": "point", "shape": "M-21,-1a21,21 0 1,0 42,0a21,21 0 1,0 -42,0zM-12,14L-14,26L2,18ZM-11,-4h5v5h-5zM-2,-4h5v5h-5zM7,-4h5v5h-5z", "size": 4, "filled": true, "fill": "#c3ecea", "strokeWidth": 0, "opacity": 1}},
        {"data": {"values": [{"col": 548, "row": 2112}]}, "mark": {"type": "point", "shape": "M-7,-15a7,7 0 1,0 14,0a7,7 0 1,0 -14,0zM6,-7.5a7,7 0 1,0 14,0a7,7 0 1,0 -14,0zM6,7.5a7,7 0 1,0 14,0a7,7 0 1,0 -14,0zM-7,15a7,7 0 1,0 14,0a7,7 0 1,0 -14,0zM-20,7.5a7,7 0 1,0 14,0a7,7 0 1,0 -14,0zM-20,-7.5a7,7 0 1,0 14,0a7,7 0 1,0 -14,0z", "size": 4, "filled": true, "fill": "#c3ecea", "strokeWidth": 0, "opacity": 1}},
        {"data": {"values": [{"col": 676, "row": 2112}]}, "mark": {"type": "point", "shape": "M-22,-14q0,-6 6,-6h32q6,0 6,6v28q0,6 -6,6h-32q-6,0 -6,-6zM-9,1a9,9 0 1,0 18,0a9,9 0 1,0 -18,0zM12,-12a3,3 0 1,0 6,0a3,3 0 1,0 -6,0z", "size": 4, "filled": true, "fill": "#c3ecea", "strokeWidth": 0, "opacity": 1}},
        {"data": {"values": [{"col": 802, "row": 2112}]}, "mark": {"type": "point", "shape": "M-17,-5a17,17 0 1,0 34,0a17,17 0 1,0 -34,0zM-24,-8C-30,8 -6,24 14,20C26,17 28,10 25,6C18,15 -12,12 -24,-8Z", "size": 4, "filled": true, "fill": "#c3ecea", "strokeWidth": 0, "opacity": 1}},
        {"data": {"values": [{"col": 802, "row": 2112}]}, "mark": {"type": "point", "shape": "M-24,-8C-16,6 6,15 24,6", "size": 4, "filled": false, "stroke": "#12332f", "strokeWidth": 3, "opacity": 1}},
        {"data": {"values": [{"col": 930, "row": 2112}]}, "mark": {"type": "point", "shape": "M-23,0a23,23 0 1,0 46,0a23,23 0 1,0 -46,0z", "size": 4, "filled": true, "fill": "#c3ecea", "strokeWidth": 0, "opacity": 1}},
        {"data": {"values": [{"col": 930, "row": 2112}]}, "mark": {"type": "point", "shape": "M-13,-8Q2,-12 14,-5M-12,0Q1,-3 11,3M-10,8Q0,6 8,11", "size": 4, "filled": false, "stroke": "#12332f", "strokeWidth": 4, "opacity": 1}},
        {"data": {"values": [{"col": 1056, "row": 2112}]}, "mark": {"type": "point", "shape": "M-22,-14q0,-6 6,-6h32q6,0 6,6v28q0,6 -6,6h-32q-6,0 -6,-6zM-6,-10L-6,10L10,0Z", "size": 4, "filled": true, "fill": "#c3ecea", "strokeWidth": 0, "opacity": 1}},
        {"data": {"values": [{"col": 1183, "row": 2112}]}, "mark": {"type": "point", "shape": "M20,-17L-20,1L-8,6L-3,18L3,9L12,14Z", "size": 4, "filled": true, "fill": "#c3ecea", "strokeWidth": 0, "opacity": 1}},
        {"data": {"values": [{"col": 1338, "row": 2112}]}, "mark": {"type": "point", "shape": "M-17,-21V21M0,-21V21M17,-21V21", "size": 4, "filled": false, "stroke": "#eaecef", "strokeWidth": 3.5, "opacity": 1}},
        {"data": {"values": [{"col": 1498, "row": 2112}]}, "mark": {"type": "point", "shape": "M-12,-20h24q7,0 7,7v26q0,7 -7,7h-24q-7,0 -7,-7v-26q0,-7 7,-7z", "size": 4, "filled": false, "stroke": "#eaecef", "strokeWidth": 4, "opacity": 1}},
        {"data": {"values": [{"col": 1659, "row": 2112}]}, "mark": {"type": "point", "shape": "M11,-21L-11,0L11,21", "size": 4, "filled": false, "stroke": "#eaecef", "strokeWidth": 4, "opacity": 1}},
        {"data": {"values": [{"col": 1658, "row": 2152}]}, "mark": {"type": "point", "shape": "M0,-4L4,0L0,4L-4,0ZM0,-14L7,-7L4,-4L0,-8L-4,-4L-7,-7ZM0,14L7,7L4,4L0,8L-4,4L-7,7ZM-12,0L-9,-3L-6,0L-9,3ZM12,0L9,-3L6,0L9,3Z", "size": 4, "filled": true, "fill": "#eaecef", "strokeWidth": 0, "opacity": 1}}
      ]
    }
  ]
}
